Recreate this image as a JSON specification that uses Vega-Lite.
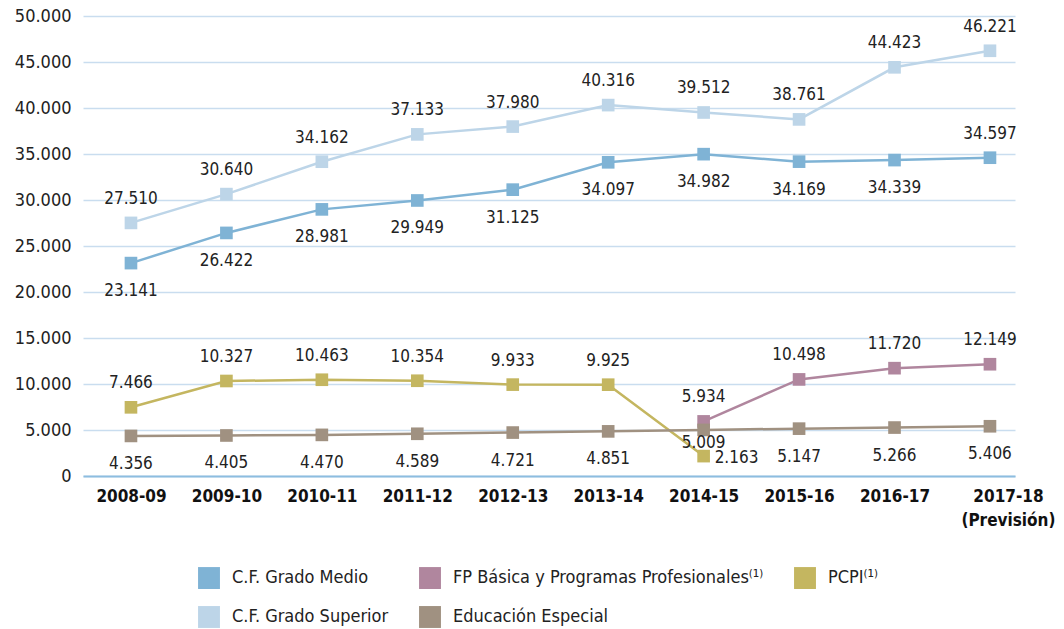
{
  "$schema": "https://vega.github.io/schema/vega-lite/v6.json",
  "width": 932,
  "height": 460,
  "autosize": {"type": "none"},
  "padding": {"left": 83, "top": 16, "right": 49, "bottom": 153},
  "background": "white",
  "config": {
    "locale": {"number": {"decimal": ",", "thousands": ".", "grouping": [3], "currency": ["", " €"]}},
    "font": "DejaVu Sans Condensed, Roboto Condensed, Roboto, sans-serif",
    "view": {"stroke": null}
  },
  "data": {
    "values": [
      {"curso": "2008-09", "serie": "C.F. Grado Medio", "v": 23141},
      {"curso": "2009-10", "serie": "C.F. Grado Medio", "v": 26422},
      {"curso": "2010-11", "serie": "C.F. Grado Medio", "v": 28981},
      {"curso": "2011-12", "serie": "C.F. Grado Medio", "v": 29949},
      {"curso": "2012-13", "serie": "C.F. Grado Medio", "v": 31125},
      {"curso": "2013-14", "serie": "C.F. Grado Medio", "v": 34097},
      {"curso": "2014-15", "serie": "C.F. Grado Medio", "v": 34982},
      {"curso": "2015-16", "serie": "C.F. Grado Medio", "v": 34169},
      {"curso": "2016-17", "serie": "C.F. Grado Medio", "v": 34339},
      {"curso": "2017-18 (Previsión)", "serie": "C.F. Grado Medio", "v": 34597},
      {"curso": "2008-09", "serie": "C.F. Grado Superior", "v": 27510},
      {"curso": "2009-10", "serie": "C.F. Grado Superior", "v": 30640},
      {"curso": "2010-11", "serie": "C.F. Grado Superior", "v": 34162},
      {"curso": "2011-12", "serie": "C.F. Grado Superior", "v": 37133},
      {"curso": "2012-13", "serie": "C.F. Grado Superior", "v": 37980},
      {"curso": "2013-14", "serie": "C.F. Grado Superior", "v": 40316},
      {"curso": "2014-15", "serie": "C.F. Grado Superior", "v": 39512},
      {"curso": "2015-16", "serie": "C.F. Grado Superior", "v": 38761},
      {"curso": "2016-17", "serie": "C.F. Grado Superior", "v": 44423},
      {"curso": "2017-18 (Previsión)", "serie": "C.F. Grado Superior", "v": 46221},
      {"curso": "2014-15", "serie": "FP Básica y Programas Profesionales⁽¹⁾", "v": 5934},
      {"curso": "2015-16", "serie": "FP Básica y Programas Profesionales⁽¹⁾", "v": 10498},
      {"curso": "2016-17", "serie": "FP Básica y Programas Profesionales⁽¹⁾", "v": 11720},
      {"curso": "2017-18 (Previsión)", "serie": "FP Básica y Programas Profesionales⁽¹⁾", "v": 12149},
      {"curso": "2008-09", "serie": "PCPI⁽¹⁾", "v": 7466},
      {"curso": "2009-10", "serie": "PCPI⁽¹⁾", "v": 10327},
      {"curso": "2010-11", "serie": "PCPI⁽¹⁾", "v": 10463},
      {"curso": "2011-12", "serie": "PCPI⁽¹⁾", "v": 10354},
      {"curso": "2012-13", "serie": "PCPI⁽¹⁾", "v": 9933},
      {"curso": "2013-14", "serie": "PCPI⁽¹⁾", "v": 9925},
      {"curso": "2014-15", "serie": "PCPI⁽¹⁾", "v": 2163},
      {"curso": "2008-09", "serie": "Educación Especial", "v": 4356},
      {"curso": "2009-10", "serie": "Educación Especial", "v": 4405},
      {"curso": "2010-11", "serie": "Educación Especial", "v": 4470},
      {"curso": "2011-12", "serie": "Educación Especial", "v": 4589},
      {"curso": "2012-13", "serie": "Educación Especial", "v": 4721},
      {"curso": "2013-14", "serie": "Educación Especial", "v": 4851},
      {"curso": "2014-15", "serie": "Educación Especial", "v": 5009},
      {"curso": "2015-16", "serie": "Educación Especial", "v": 5147},
      {"curso": "2016-17", "serie": "Educación Especial", "v": 5266},
      {"curso": "2017-18 (Previsión)", "serie": "Educación Especial", "v": 5406}
    ]
  },
  "encoding": {
    "x": {
      "field": "curso", "type": "ordinal", "sort": null,
      "scale": {"type": "point", "padding": 0.3825, "align": 0.657},
      "axis": {
        "title": null, "labelAngle": 0, "ticks": false, "grid": false,
        "domain": true, "domainColor": "#8dbde0", "domainWidth": 2,
        "labelFontSize": 17, "labelFontWeight": "bold", "labelColor": "#111111",
        "labelPadding": 12, "labelBaseline": "top", "labelLineHeight": 24,
        "labelExpr": "split(datum.label, ' ')",
        "labelOffset": {"condition": {"test": "datum.value == '2017-18 (Previsión)'", "value": 18}, "value": 0}
      }
    },
    "y": {
      "field": "v", "type": "quantitative",
      "scale": {"domain": [0, 50000], "nice": false},
      "axis": {
        "title": null, "values": [0, 5000, 10000, 15000, 20000, 25000, 30000, 35000, 40000, 45000, 50000],
        "format": ",d", "domain": false, "ticks": false, "labelPadding": 12,
        "labelFontSize": 18, "labelColor": "#222222",
        "gridColor": "#c9ddef", "gridWidth": 1.5
      }
    },
    "color": {
      "field": "serie", "type": "nominal",
      "scale": {
        "domain": ["C.F. Grado Medio", "FP Básica y Programas Profesionales⁽¹⁾", "PCPI⁽¹⁾", "C.F. Grado Superior", "Educación Especial"],
        "range": ["#7fb3d5", "#b0869e", "#c4b660", "#bdd5e8", "#a09181"]
      },
      "legend": {
        "title": null, "orient": "none", "legendX": 115, "legendY": 551,
        "direction": "horizontal", "columns": 3, "columnPadding": 30, "rowPadding": 17,
        "symbolType": "square", "symbolSize": 480, "symbolStrokeWidth": 0, "symbolOpacity": 1,
        "labelFontSize": 18, "labelColor": "#222222", "labelOffset": 12, "labelLimit": 400
      }
    }
  },
  "layer": [
    {"mark": {"type": "line", "strokeWidth": 2.5}, "encoding": {"detail": {"field": "serie"}}},
    {"mark": {"type": "point", "shape": "square", "filled": true, "size": 160, "opacity": 1}},
    {
      "transform": [{"filter": "(datum.serie == 'C.F. Grado Superior' || datum.serie == 'FP Básica y Programas Profesionales⁽¹⁾' || (datum.serie == 'PCPI⁽¹⁾' && datum.curso != '2014-15') || (datum.serie == 'C.F. Grado Medio' && datum.curso == '2017-18 (Previsión)'))"}],
      "mark": {"type": "text", "dy": -24, "baseline": "middle", "fontSize": 17, "color": "#222222"},
      "encoding": {"text": {"field": "v", "type": "quantitative", "format": ",d"}, "color": {"value": "#222222"}}
    },
    {
      "transform": [{"filter": "(datum.serie == 'Educación Especial' && datum.curso != '2014-15') || (datum.serie == 'C.F. Grado Medio' && datum.curso != '2017-18 (Previsión)')"}],
      "mark": {"type": "text", "dy": 28, "baseline": "middle", "fontSize": 17, "color": "#222222"},
      "encoding": {"text": {"field": "v", "type": "quantitative", "format": ",d"}, "color": {"value": "#222222"}}
    },
    {
      "transform": [{"filter": "datum.serie == 'Educación Especial' && datum.curso == '2014-15'"}],
      "mark": {"type": "text", "dy": 13, "baseline": "middle", "fontSize": 17, "color": "#222222"},
      "encoding": {"text": {"field": "v", "type": "quantitative", "format": ",d"}, "color": {"value": "#222222"}}
    },
    {
      "transform": [{"filter": "datum.serie == 'PCPI⁽¹⁾' && datum.curso == '2014-15'"}],
      "mark": {"type": "text", "dx": 11, "dy": 2, "align": "left", "baseline": "middle", "fontSize": 17, "color": "#222222"},
      "encoding": {"text": {"field": "v", "type": "quantitative", "format": ",d"}, "color": {"value": "#222222"}}
    }
  ]
}
